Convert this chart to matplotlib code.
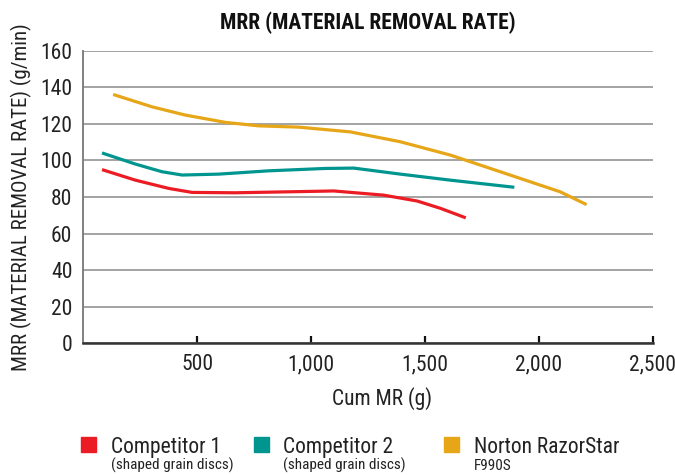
import matplotlib
matplotlib.use("Agg")
import matplotlib.pyplot as plt

plt.rcParams['font.family'] = ['Roboto Condensed', 'DejaVu Sans']

# data
comp1_x = [88, 228, 374, 477, 667, 887, 1062, 1099, 1319, 1466, 1568, 1673]
comp1_y = [94.7, 89.2, 84.7, 82.5, 82.3, 82.8, 83.2, 83.3, 81.0, 77.8, 73.8, 68.9]

comp2_x = [88, 228, 345, 433, 594, 813, 1062, 1187, 1392, 1612, 1886]
comp2_y = [103.8, 98.0, 93.8, 92.0, 92.5, 94.3, 95.6, 95.8, 92.5, 89.2, 85.4]

norton_x = [137, 301, 447, 623, 769, 945, 1172, 1392, 1612, 1831, 2095, 2204]
norton_y = [135.8, 129.3, 124.8, 120.8, 118.9, 118.2, 115.6, 110.2, 102.9, 93.8, 82.8, 76.2]

colors = ["#ec1c24", "#00968f", "#e6a617"]
labels = ["Competitor 1", "Competitor 2", "Norton RazorStar"]
sublabels = ["(shaped grain discs)", "(shaped grain discs)", "F990S"]

x_ticks = [500, 1000, 1500, 2000, 2500]
y_ticks = [0, 20, 40, 60, 80, 100, 120, 140, 160]

fig = plt.figure(figsize=(6.75, 4.75), dpi=100)
ax = fig.add_axes([0.1237, 0.2773, 0.843, 0.616])

for xs, ys, c in zip([comp1_x, comp2_x, norton_x], [comp1_y, comp2_y, norton_y], colors):
    ax.plot(xs, ys, color=c, lw=2.3, solid_joinstyle='round')

ax.set_xlim(0, 2500)
ax.set_ylim(0, 160)
ax.set_xticks(x_ticks)
ax.set_xticklabels([f"{v:,}" for v in x_ticks])
ax.set_yticks(y_ticks)
ax.grid(axis='y', color='#8a8a8a', lw=1.1)
ax.set_axisbelow(True)
for s in ['top', 'right']:
    ax.spines[s].set_visible(False)
ax.spines['left'].set_color('#777777')
ax.spines['left'].set_linewidth(1.3)
ax.spines['bottom'].set_color('#333333')
ax.spines['bottom'].set_linewidth(1.8)
ax.tick_params(axis='x', direction='in', length=5, width=1.6, color='#111111',
               labelsize=15.5, pad=8, labelcolor='#222222')
ax.tick_params(axis='y', length=0, labelsize=15.5, pad=8, labelcolor='#222222')

fig.text(0.566, 0.16, "Cum MR (g)", ha='center', va='center', fontsize=15.5, color='#222222')
fig.text(0.032, 0.585, "MRR (MATERIAL REMOVAL RATE) (g/min)", ha='center', va='center',
         rotation=90, fontsize=15, color='#222222')
fig.text(0.545, 0.952, "MRR (MATERIAL REMOVAL RATE)", ha='center', va='center',
         fontsize=15.5, fontweight='bold', color='#111111')

# legend
sq_x = [0.12, 0.3767, 0.6582]
tx_x = [0.1644, 0.4197, 0.7022]
for x0, x1, c, lab, sub in zip(sq_x, tx_x, colors, labels, sublabels):
    fig.patches.append(plt.Rectangle((x0, 0.0478), 0.0222, 0.0316, transform=fig.transFigure,
                                     color=c, figure=fig))
    fig.text(x1, 0.046, lab, fontsize=15.5, va='baseline', ha='left', color='#222222')
    fig.text(x1, 0.011, sub, fontsize=11, va='baseline', ha='left', color='#222222')

fig.savefig("out.png", dpi=100)
